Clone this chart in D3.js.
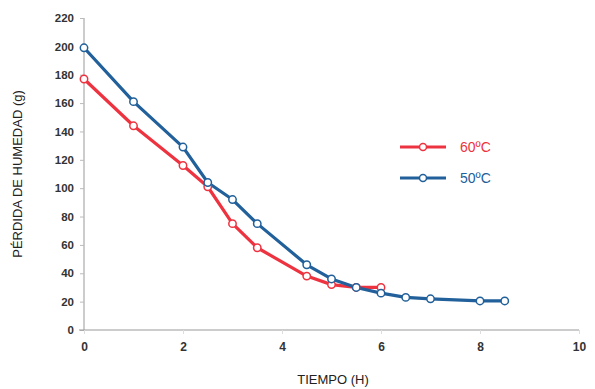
<!DOCTYPE html>
<html>
<head>
<meta charset="utf-8">
<script src="https://cdn.jsdelivr.net/npm/d3@7"></script>
<style>
  body { margin: 0; background: #fff; }
  svg { font-family: "Liberation Sans", Arial, sans-serif; }
</style>
</head>
<body>
<div id="chart"></div>
<script>
// hours
const hours60 = [0, 1, 2, 2.5, 3, 3.5, 4.5, 5, 5.5, 6];
const loss60 = [177, 144, 116, 101, 75, 58, 38, 32, 30, 30];
const hours50 = [0, 1, 2, 2.5, 3, 3.5, 4.5, 5, 5.5, 6, 6.5, 7, 8, 8.5];
const loss50 = [199, 161, 129, 104, 92, 75, 46, 36, 30, 26, 23, 22, 20.5, 20.5];
const xTicks = [0, 2, 4, 6, 8, 10];
const yTicks = [0, 20, 40, 60, 80, 100, 120, 140, 160, 180, 200, 220];
const seriesNames = ['60ºC', '50ºC'];

const width = 595, height = 389;
const svg = d3.select('#chart').append('svg')
  .attr('width', width).attr('height', height);

const x = d3.scaleLinear().domain([0, 10]).range([84, 579]);
const y = d3.scaleLinear().domain([0, 220]).range([330, 18]);

// y axis
const yAxis = svg.append('g')
  .attr('transform', 'translate(84,0)')
  .call(d3.axisLeft(y).tickValues(yTicks).tickSize(4).tickPadding(6));
yAxis.select('.domain').attr('stroke', '#999').attr('d', 'M0,' + y(220) + 'V' + y(0));
yAxis.selectAll('.tick line').attr('stroke', '#bbb');
yAxis.selectAll('text').attr('font-size', 11.5).attr('fill', '#333').attr('font-weight', 'bold');

// x axis
const xAxis = svg.append('g')
  .attr('transform', 'translate(0,330)')
  .call(d3.axisBottom(x).tickValues(xTicks).tickSize(4).tickPadding(8));
xAxis.select('.domain').attr('stroke', '#999').attr('d', 'M' + (x(0) - 5) + ',0H' + x(10));
xAxis.selectAll('.tick line').attr('stroke', '#ddd');
xAxis.selectAll('text').attr('font-size', 12).attr('fill', '#333').attr('font-weight', 'bold');

svg.append('text')
  .attr('x', 333).attr('y', 384)
  .attr('text-anchor', 'middle')
  .attr('font-size', 13).attr('fill', '#222')
  .text('TIEMPO (H)');

svg.append('text')
  .attr('transform', 'translate(22,174) rotate(-90)')
  .attr('text-anchor', 'middle')
  .attr('font-size', 13).attr('fill', '#222')
  .text('PÉRDIDA DE HUMEDAD (g)');

const series = [
  { name: seriesNames[0], color: '#ee3340', data: hours60.map((h, i) => [h, loss60[i]]) },
  { name: seriesNames[1], color: '#21609a', data: hours50.map((h, i) => [h, loss50[i]]) }
];

const line = d3.line().x(d => x(d[0])).y(d => y(d[1]));

series.forEach(s => {
  svg.append('path')
    .datum(s.data)
    .attr('fill', 'none')
    .attr('stroke', s.color)
    .attr('stroke-width', 3.2)
    .attr('stroke-linejoin', 'round')
    .attr('d', line);
});
series.forEach(s => {
  svg.append('g').selectAll('circle')
    .data(s.data)
    .enter().append('circle')
    .attr('cx', d => x(d[0]))
    .attr('cy', d => y(d[1]))
    .attr('r', 3.7)
    .attr('fill', '#fff')
    .attr('stroke', s.color)
    .attr('stroke-width', 1.5);
});

// legend
const legend = svg.append('g').attr('transform', 'translate(400,147)');
const item = legend.selectAll('g').data(series).enter().append('g')
  .attr('transform', (d, i) => `translate(0,${i * 31})`);
item.append('line')
  .attr('x1', 0).attr('x2', 46).attr('y1', 0).attr('y2', 0)
  .attr('stroke', d => d.color).attr('stroke-width', 3);
item.append('circle')
  .attr('cx', 23).attr('cy', 0).attr('r', 3.5)
  .attr('fill', '#fff').attr('stroke', d => d.color).attr('stroke-width', 1.5);
item.append('text')
  .attr('x', 60).attr('y', 5)
  .attr('font-size', 14).attr('fill', d => d.color)
  .text(d => d.name);
</script>
</body>
</html>
